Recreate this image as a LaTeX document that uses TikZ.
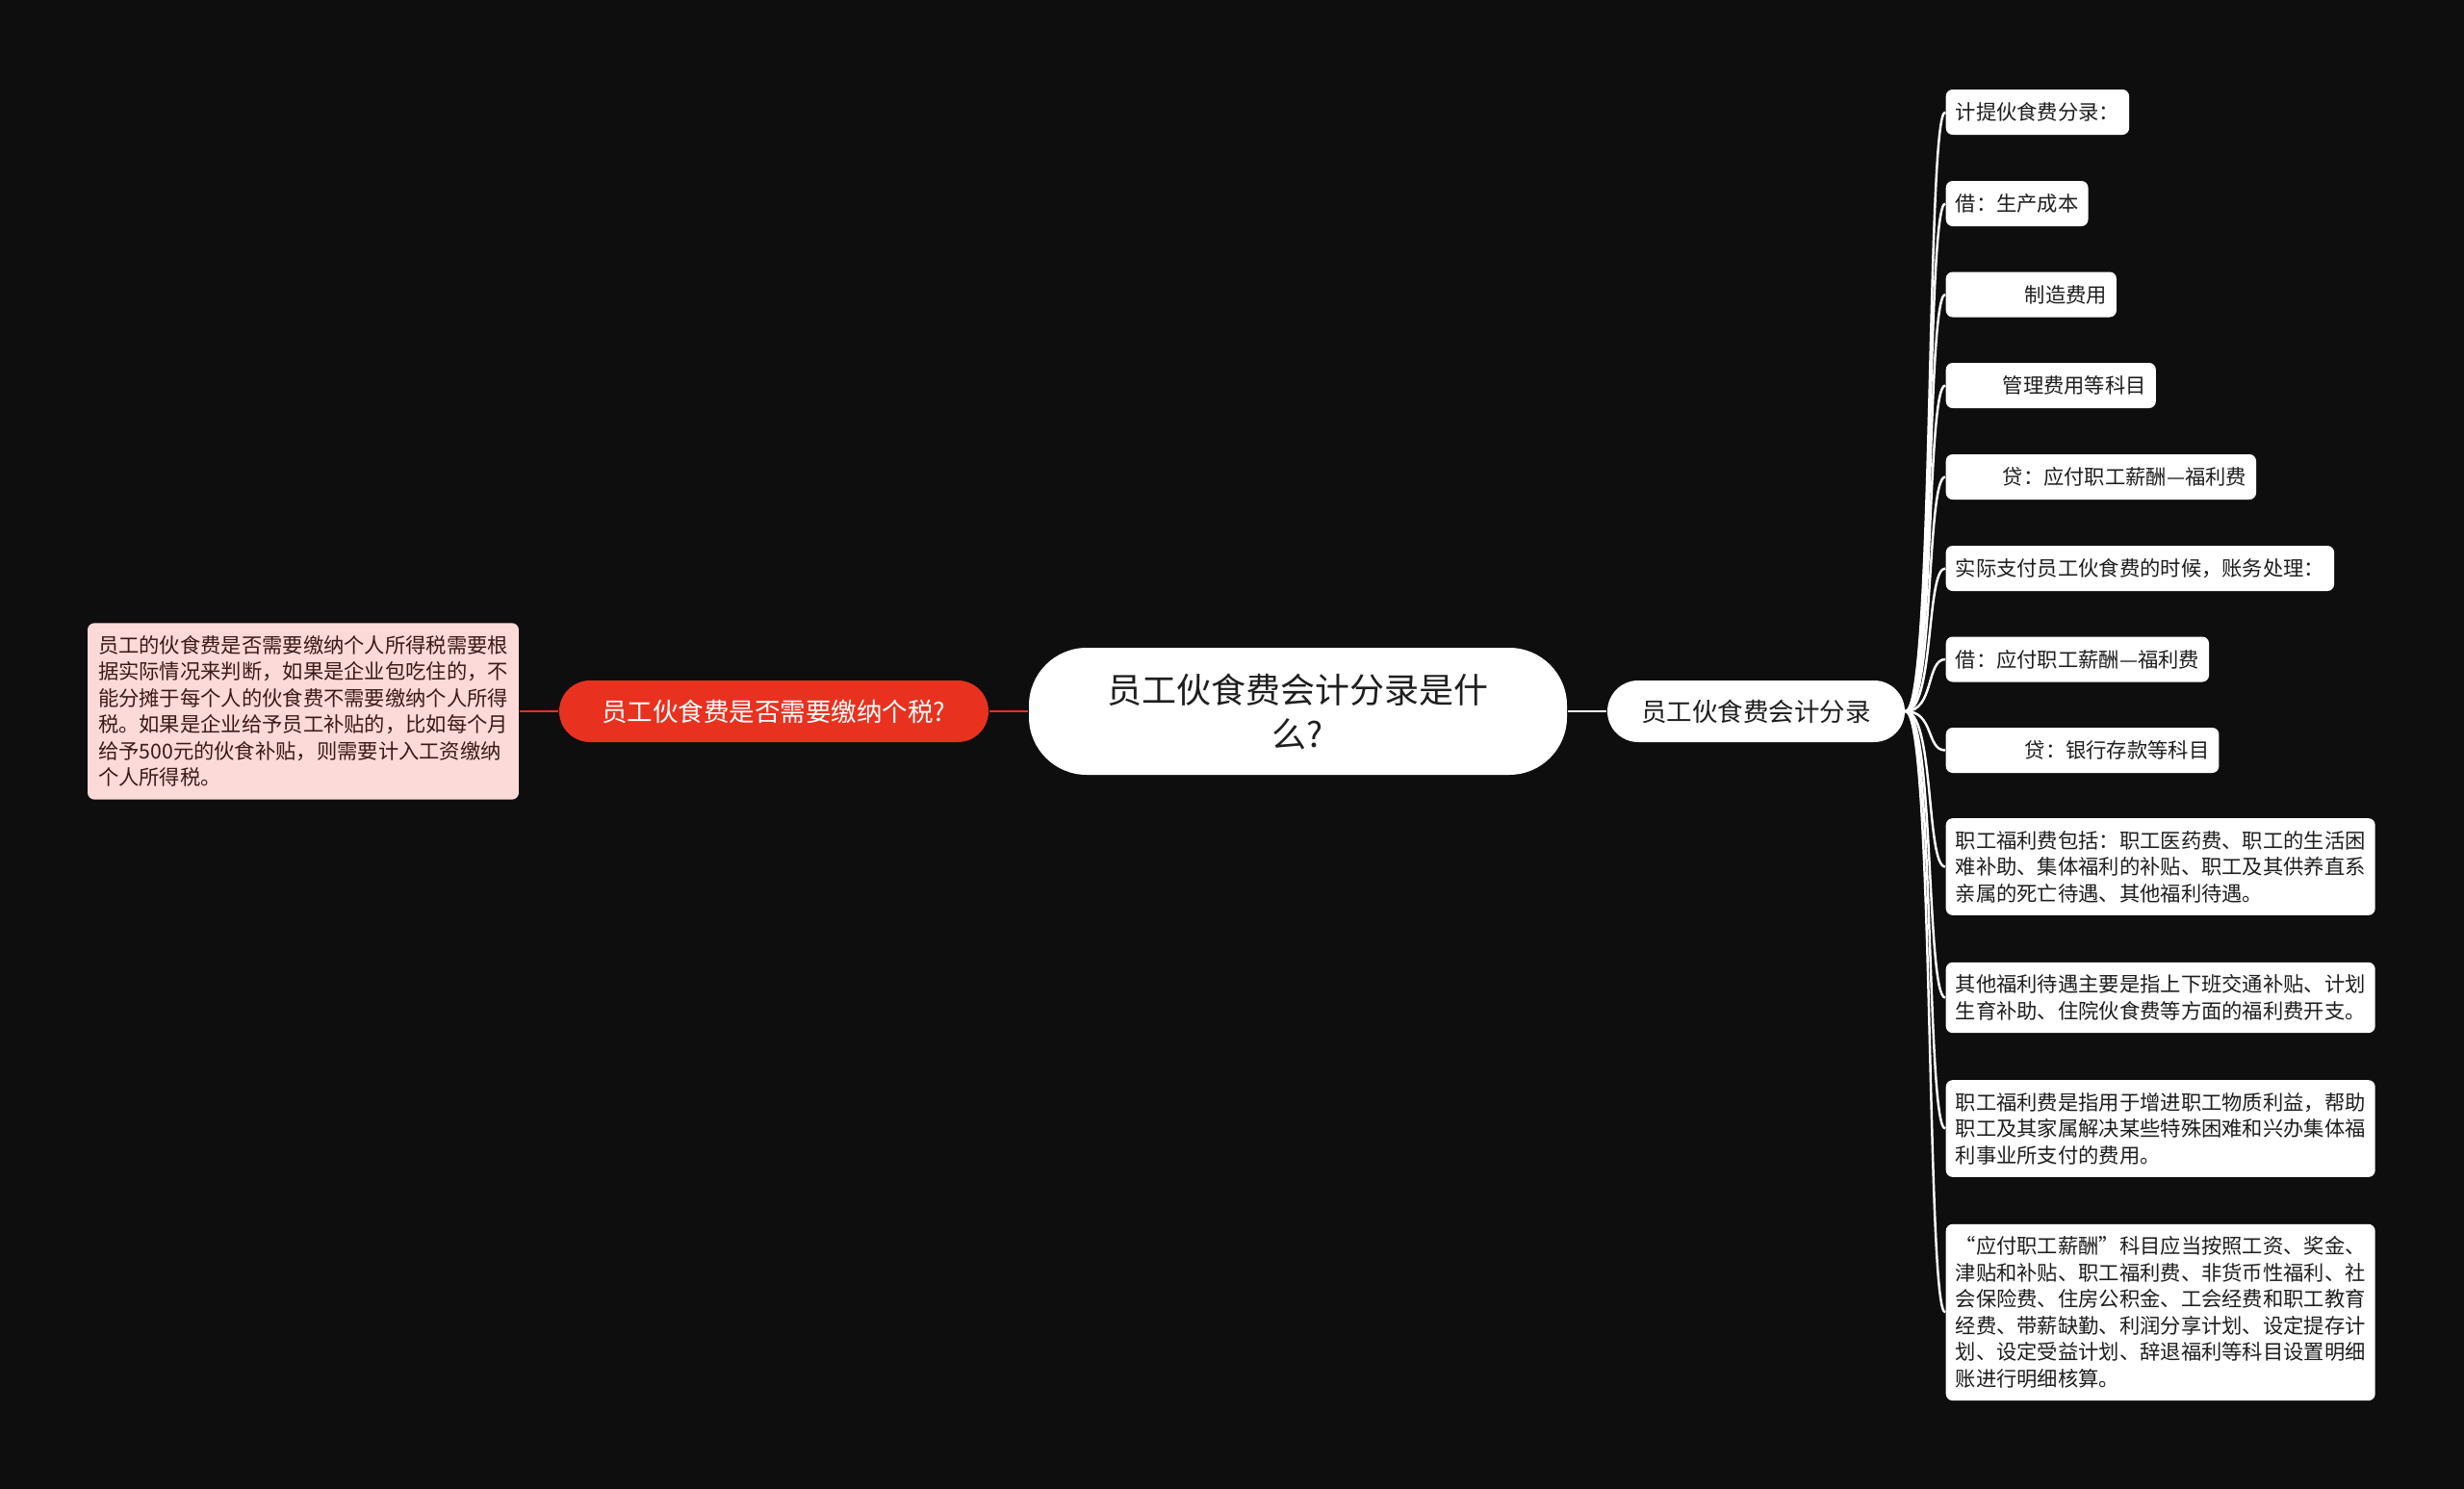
\documentclass[tikz,border=0pt]{standalone}
\usepackage{fontspec}
\setmainfont{Noto Sans CJK SC}
\definecolor{bgdark}{HTML}{0E0E0E}
\definecolor{topicred}{HTML}{E8321F}
\definecolor{notepink}{HTML}{FCDAD7}
\definecolor{notetext}{HTML}{3A1A1A}
\definecolor{darktext}{HTML}{1E1E1E}

\begin{document}
\begin{tikzpicture}[
    leaf/.style={anchor=west,fill=white,text=darktext,rounded corners=0.07cm,inner xsep=0.1cm,inner ysep=0.13cm,minimum height=0.47cm,align=left,font=\fontsize{6.06}{7.82}\selectfont},
    topic/.style={minimum width=3.09cm,minimum height=0.64cm,rounded corners=0.32cm,inner sep=0pt,font=\fontsize{7.54}{9}\selectfont},
    wline/.style={draw=white,line width=0.7pt},
    rline/.style={draw=topicred,line width=0.8pt}
  ]
      \fill[bgdark] (0,0) rectangle (25.6,-15.47);
      \useasboundingbox (0,0) rectangle (25.6,-15.47);

      \node[fill=white,text=darktext,minimum width=5.59cm,minimum height=1.32cm,rounded corners=0.6cm,align=center,font=\fontsize{10.24}{13.09}\selectfont] (root) at (13.485,-7.39) {员工伙食费会计分录是什\\么?};

      \node[topic,fill=white,text=darktext] (entry) at (18.245,-7.39) {员工伙食费会计分录};
      \node[topic,fill=topicred,text=white,minimum width=4.46cm] (tax) at (8.04,-7.39) {员工伙食费是否需要缴纳个税?};
      \node[fill=notepink,text=notetext,rounded corners=0.07cm,inner xsep=0.11cm,inner ysep=0.13cm,align=left,font=\fontsize{6.06}{7.82}\selectfont] (taxnote) at (3.15,-7.39) {员工的伙食费是否需要缴纳个人所得税需要根\\据实际情况来判断，如果是企业包吃住的，不\\能分摊于每个人的伙食费不需要缴纳个人所得\\税。如果是企业给予员工补贴的，比如每个月\\给予500元的伙食补贴，则需要计入工资缴纳\\个人所得税。};

      \node[leaf] (l1) at (20.21,-1.165) {计提伙食费分录：};
      \node[leaf] (l2) at (20.21,-2.115) {借：生产成本};
      \node[leaf] (l3) at (20.21,-3.06) {\hspace*{0.72cm}制造费用};
      \node[leaf] (l4) at (20.21,-4.005) {\hspace*{0.49cm}管理费用等科目};
      \node[leaf] (l5) at (20.21,-4.955) {\hspace*{0.49cm}贷：应付职工薪酬—福利费};
      \node[leaf] (l6) at (20.21,-5.905) {实际支付员工伙食费的时候，账务处理：};
      \node[leaf] (l7) at (20.21,-6.85) {借：应付职工薪酬—福利费};
      \node[leaf] (l8) at (20.21,-7.795) {\hspace*{0.72cm}贷：银行存款等科目};
      \node[leaf] (l9) at (20.21,-9.005) {职工福利费包括：职工医药费、职工的生活困\\难补助、集体福利的补贴、职工及其供养直系\\亲属的死亡待遇、其他福利待遇。};
      \node[leaf] (l10) at (20.21,-10.365) {其他福利待遇主要是指上下班交通补贴、计划\\生育补助、住院伙食费等方面的福利费开支。};
      \node[leaf] (l11) at (20.21,-11.725) {职工福利费是指用于增进职工物质利益，帮助\\职工及其家属解决某些特殊困难和兴办集体福\\利事业所支付的费用。};
      \node[leaf] (l12) at (20.21,-13.635) {“应付职工薪酬”科目应当按照工资、奖金、\\津贴和补贴、职工福利费、非货币性福利、社\\会保险费、住房公积金、工会经费和职工教育\\经费、带薪缺勤、利润分享计划、设定提存计\\划、设定受益计划、辞退福利等科目设置明细\\账进行明细核算。};

      \draw[rline] (taxnote.east) -- (tax.west);
      \draw[rline] (tax.east) -- (root.west);
      \draw[wline] (root.east) -- (entry.west);

      \draw[wline] (entry.east) .. controls +(0.3,0) and +(-0.2,0) .. (l1.west);
      \draw[wline] (entry.east) .. controls +(0.3,0) and +(-0.2,0) .. (l2.west);
      \draw[wline] (entry.east) .. controls +(0.3,0) and +(-0.2,0) .. (l3.west);
      \draw[wline] (entry.east) .. controls +(0.3,0) and +(-0.2,0) .. (l4.west);
      \draw[wline] (entry.east) .. controls +(0.3,0) and +(-0.2,0) .. (l5.west);
      \draw[wline] (entry.east) .. controls +(0.3,0) and +(-0.2,0) .. (l6.west);
      \draw[wline] (entry.east) .. controls +(0.3,0) and +(-0.2,0) .. (l7.west);
      \draw[wline] (entry.east) .. controls +(0.3,0) and +(-0.2,0) .. (l8.west);
      \draw[wline] (entry.east) .. controls +(0.3,0) and +(-0.2,0) .. (l9.west);
      \draw[wline] (entry.east) .. controls +(0.3,0) and +(-0.2,0) .. (l10.west);
      \draw[wline] (entry.east) .. controls +(0.3,0) and +(-0.2,0) .. (l11.west);
      \draw[wline] (entry.east) .. controls +(0.3,0) and +(-0.2,0) .. (l12.west);
    \end{tikzpicture}
\end{document}
